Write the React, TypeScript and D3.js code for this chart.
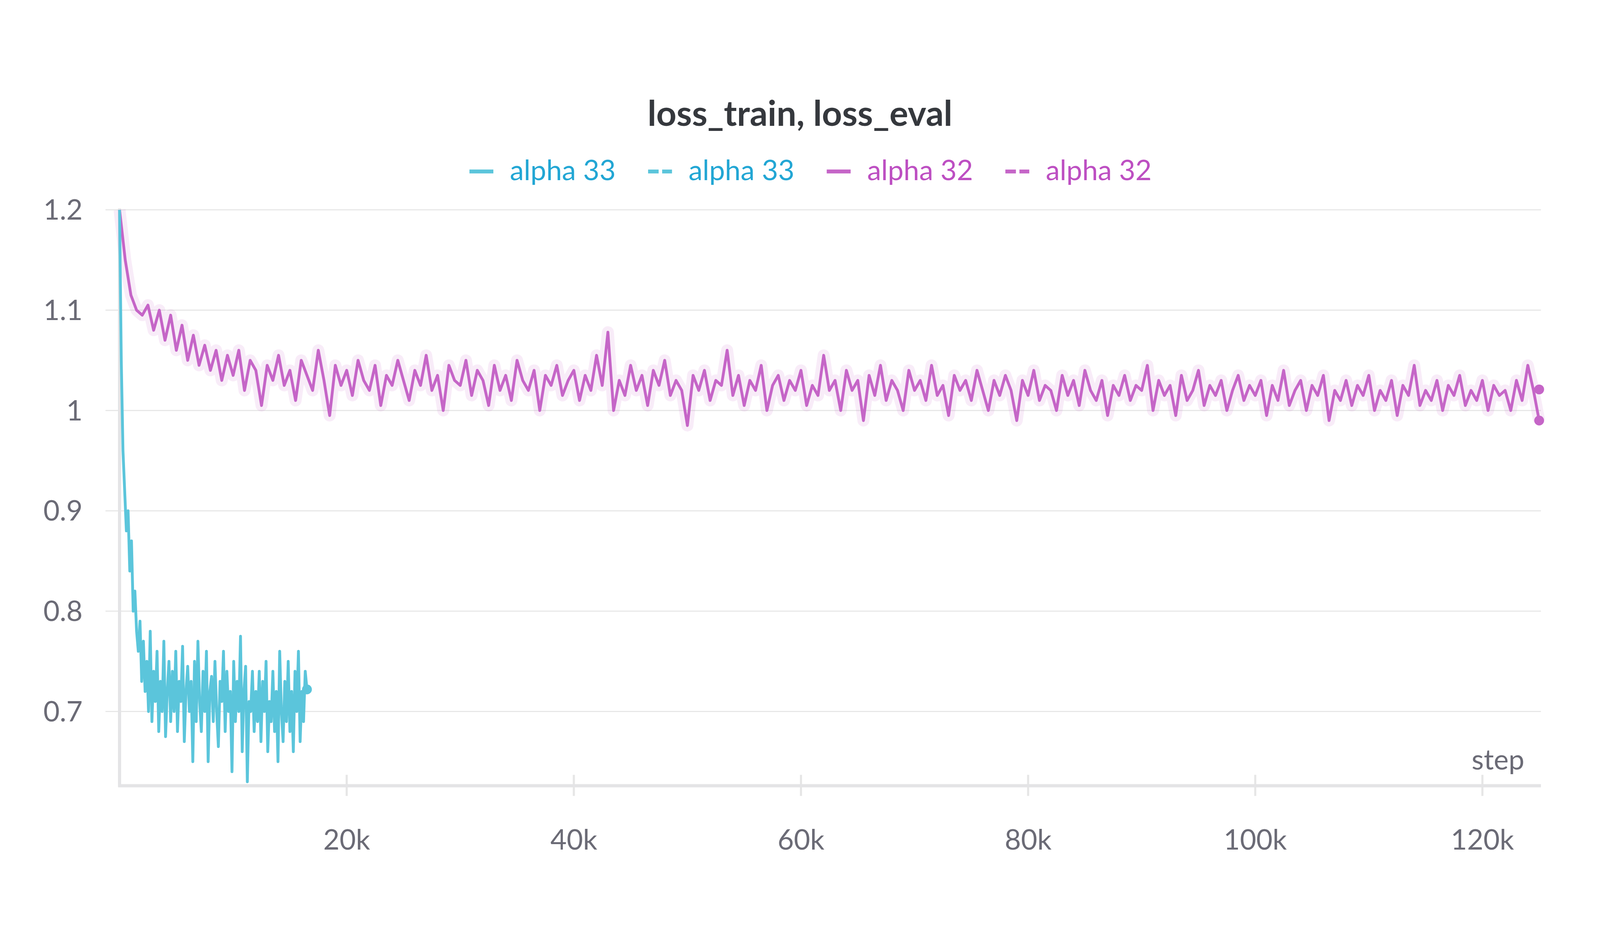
import React from "react";
import * as d3 from "d3";

const W = 4550, H = 2390;
const purpleStep = 500;
const purpleTrain = [
1.200,1.150,1.115,1.100,1.095,1.105,1.080,1.100,1.070,1.095,1.060,1.085,1.050,1.075,1.045,1.065,1.040,1.060,1.030,1.055,
1.035,1.060,1.020,1.050,1.040,1.005,1.045,1.030,1.055,1.025,1.040,1.010,1.050,1.035,1.020,1.060,1.030,0.995,1.045,1.025,
1.040,1.015,1.050,1.030,1.020,1.045,1.005,1.035,1.025,1.050,1.030,1.010,1.040,1.025,1.055,1.020,1.035,1.000,1.045,1.030,
1.025,1.050,1.015,1.040,1.030,1.005,1.045,1.020,1.035,1.010,1.050,1.030,1.020,1.040,1.000,1.035,1.025,1.045,1.015,1.030,
1.040,1.010,1.035,1.020,1.055,1.025,1.078,1.000,1.030,1.015,1.045,1.020,1.035,1.005,1.040,1.025,1.050,1.015,1.030,1.020,
0.985,1.035,1.020,1.040,1.010,1.030,1.025,1.060,1.015,1.035,1.005,1.030,1.020,1.045,1.000,1.025,1.035,1.010,1.030,1.020,
1.040,1.005,1.025,1.015,1.055,1.020,1.030,1.000,1.040,1.020,1.030,0.990,1.035,1.015,1.045,1.010,1.030,1.020,1.000,1.040,
1.020,1.030,1.010,1.045,1.015,1.025,0.995,1.035,1.020,1.030,1.010,1.040,1.020,1.000,1.030,1.015,1.035,1.020,0.990,1.030,
1.015,1.040,1.010,1.025,1.020,1.000,1.035,1.015,1.030,1.005,1.040,1.020,1.010,1.030,0.995,1.025,1.015,1.035,1.010,1.025,
1.020,1.045,1.000,1.030,1.015,1.025,0.995,1.035,1.010,1.020,1.040,1.005,1.025,1.015,1.030,1.000,1.020,1.035,1.010,1.025,
1.015,1.030,0.995,1.025,1.010,1.040,1.005,1.020,1.030,1.000,1.025,1.015,1.035,0.990,1.020,1.010,1.030,1.005,1.025,1.015,
1.035,1.000,1.020,1.010,1.030,0.995,1.025,1.015,1.045,1.005,1.020,1.010,1.030,1.000,1.025,1.015,1.035,1.005,1.020,1.010,
1.030,1.000,1.025,1.015,1.020,1.000,1.030,1.010,1.045,1.020,0.990];
const purpleEvalEnd = { step: 125000, value: 1.021 };

const cyanStep = 150;
const cyanTrain = [
1.200,1.050,0.960,0.920,0.880,0.900,0.840,0.870,0.800,0.820,0.780,0.760,0.790,0.730,0.770,0.720,0.750,0.700,0.780,0.690,
0.740,0.710,0.760,0.680,0.730,0.700,0.770,0.675,0.720,0.750,0.690,0.740,0.700,0.760,0.680,0.730,0.710,0.765,0.670,0.720,
0.745,0.700,0.730,0.650,0.750,0.690,0.770,0.710,0.680,0.740,0.700,0.760,0.650,0.720,0.735,0.690,0.750,0.700,0.665,0.730,
0.710,0.760,0.680,0.740,0.700,0.720,0.640,0.750,0.690,0.730,0.700,0.775,0.660,0.720,0.745,0.630,0.710,0.700,0.740,0.680,
0.720,0.690,0.740,0.670,0.730,0.700,0.750,0.660,0.710,0.690,0.740,0.680,0.720,0.650,0.760,0.700,0.670,0.730,0.690,0.750,
0.680,0.720,0.660,0.740,0.700,0.760,0.670,0.720,0.690,0.740,0.722];

const yTicks = [0.7, 0.8, 0.9, 1, 1.1, 1.2];
const xTicks = [20000, 40000, 60000, 80000, 100000, 120000];
const legend = [
  { label: "alpha 33", color: "#5bc5db", text: "#22a6d4", dash: false },
  { label: "alpha 33", color: "#5bc5db", text: "#22a6d4", dash: true },
  { label: "alpha 32", color: "#c565c7", text: "#bd4fc2", dash: false },
  { label: "alpha 32", color: "#c565c7", text: "#bd4fc2", dash: true },
];

const CYAN = "#5bc5db", PURPLE = "#c565c7";
const font = "Lato, 'Open Sans', sans-serif";

export default function App() {
  const x = d3.scaleLinear().domain([0, 125000]).range([340, 4377]);
  const y = d3.scaleLinear().domain([0.7, 1.2]).range([1890, 464]);
  const mk = (vals: number[], step: number) =>
    d3.line<number>().x((_, i) => x(i * step)).y((v) => y(v))(vals) || "";
  const pPath = mk(purpleTrain, purpleStep);
  const cPath = mk(cyanTrain, cyanStep);
  const legX = [1335, 1843, 2351, 2859];
  return (
    <svg viewBox={`0 0 ${W} ${H}`} preserveAspectRatio="xMidYMid meet"
      style={{ display: "block", position: "fixed", left: 0, top: 0, width: "100vw", height: "100vh" }} fontFamily={font}>
      <rect width={W} height={H} fill="#fff" />
      <text x={2275} y={225} textAnchor="middle" fontSize={100} fontWeight={700} fill="#35383d">loss_train, loss_eval</text>
      {legend.map((l, i) => (
        <g key={i}>
          {l.dash ? (
            <>
              <line x1={legX[i]} x2={legX[i] + 30} y1={355} y2={355} stroke={l.color} strokeWidth={11} />
              <line x1={legX[i] + 40} x2={legX[i] + 68} y1={355} y2={355} stroke={l.color} strokeWidth={11} />
            </>
          ) : (
            <line x1={legX[i]} x2={legX[i] + 68} y1={355} y2={355} stroke={l.color} strokeWidth={11} />
          )}
          <text x={legX[i] + 115} y={380} fontSize={80} fill={l.text}>{l.label}</text>
        </g>
      ))}
      {yTicks.map((t) => (
        <g key={t}>
          <line x1={300} x2={4382} y1={y(t)} y2={y(t)} stroke="#e6e6e6" strokeWidth={3} />
          <text x={235} y={y(t) + 28} textAnchor="end" fontSize={80} fill="#6b6b76">{String(t)}</text>
        </g>
      ))}
      {xTicks.map((t) => (
        <g key={t}>
          <line x1={x(t)} x2={x(t)} y1={2070} y2={2130} stroke="#e6e6e6" strokeWidth={6} />
          <text x={x(t)} y={2283} textAnchor="middle" fontSize={80} fill="#6b6b76">{t / 1000}k</text>
        </g>
      ))}
      <line x1={340} x2={340} y1={460} y2={2104} stroke="#e4e4e6" strokeWidth={9} />
      <line x1={336} x2={4382} y1={2101} y2={2101} stroke="#e4e4e6" strokeWidth={9} />
      <text x={4335} y={2055} textAnchor="end" fontSize={80} fill="#6b6b76">step</text>
      <path d={pPath} fill="none" stroke={PURPLE} strokeOpacity={0.12} strokeWidth={34} strokeLinejoin="round" />
      <path d={pPath} fill="none" stroke={PURPLE} strokeWidth={8} strokeLinejoin="round" />
      <path d={cPath} fill="none" stroke={CYAN} strokeWidth={8} strokeLinejoin="round" />
      <circle cx={x(purpleEvalEnd.step)} cy={y(purpleEvalEnd.value)} r={14} fill={PURPLE} />
      <circle cx={x((purpleTrain.length - 1) * purpleStep)} cy={y(purpleTrain[purpleTrain.length - 1])} r={14} fill={PURPLE} />
      <circle cx={x((cyanTrain.length - 1) * cyanStep)} cy={y(cyanTrain[cyanTrain.length - 1])} r={14} fill={CYAN} />
    </svg>
  );
}
